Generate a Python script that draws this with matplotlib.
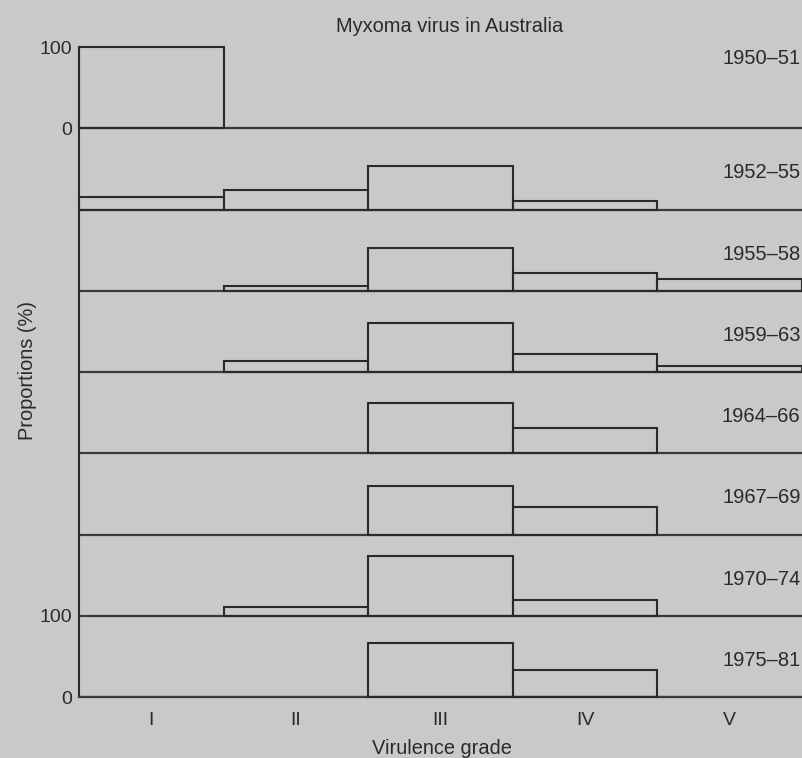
import matplotlib.pyplot as plt
import numpy as np

# Virulence grades and period labels (top panel first)
grades = ['I', 'II', 'III', 'IV', 'V']
periods = ['1950-51', '1952-55', '1955-58', '1959-63',
           '1964-66', '1967-69', '1970-74', '1975-81']

# Proportions (%) per grade
p_1950_51 = [100, 0, 0, 0, 0]
p_1952_55 = [15.5, 24.5, 54, 11, 0]
p_1955_58 = [0, 6, 53, 22, 14]
p_1959_63 = [0, 13, 60, 22, 7]
p_1964_66 = [0, 0, 62, 31, 0]
p_1967_69 = [0, 0, 60, 34, 0]
p_1970_74 = [0, 11, 74, 19, 0]
p_1975_81 = [0, 0, 66, 33, 0]

props = [p_1950_51, p_1952_55, p_1955_58, p_1959_63,
         p_1964_66, p_1967_69, p_1970_74, p_1975_81]

BG = '#c9c9c9'
INK = '#2a2a2a'
FONT = 'Liberation Sans'


def plot_panel(ax, offset, values, label, label_frac):
    x = np.arange(len(values))
    for xi, v in zip(x, values):
        if v <= 0:
            continue
        ax.bar(xi, v, width=1, bottom=offset, align='edge', fill=False,
               edgecolor=INK, linewidth=1.5, zorder=3, clip_on=False)
    # baseline across the full width
    ax.axhline(offset, color='#3a3a3a', linewidth=1.6, zorder=2)
    ax.text(4.99, offset + 100 * label_frac, label.replace('-', '\u2013'),
            ha='right', va='center', fontsize=14.5, color=INK, family=FONT)


fig = plt.figure(figsize=(8.03, 7.58), dpi=100, facecolor=BG)
ax = fig.add_axes([79 / 803, 1 - 697 / 758, (802 - 79) / 803, (697 - 47) / 758])
ax.set_facecolor(BG)

n = len(periods)
for i, (label, values) in enumerate(zip(periods, props)):
    offset = (n - 1 - i) * 100
    frac = 0.86 if i == 0 else 0.45
    plot_panel(ax, offset, values, label, frac)

ax.set_xlim(0, 5)
ax.set_ylim(0, 800)

# Axis styling
for side in ['top', 'right']:
    ax.spines[side].set_visible(False)
ax.spines['left'].set_color(INK)
ax.spines['left'].set_linewidth(1.5)
ax.spines['bottom'].set_color('#3a3a3a')
ax.spines['bottom'].set_linewidth(1.6)

ax.set_yticks([0, 100, 700, 800])
ax.set_yticklabels(['0', '100', '0', '100'])
ax.set_xticks(np.arange(len(grades)) + 0.5)
ax.set_xticklabels(grades)
ax.tick_params(axis='y', length=0, pad=5, labelsize=14, labelcolor=INK)
ax.tick_params(axis='x', length=0, pad=11, labelsize=14, labelcolor=INK)
for lbl in ax.get_xticklabels() + ax.get_yticklabels():
    lbl.set_family(FONT)

# Titles and labels
fig.text(450 / 803, 1 - 27 / 758, 'Myxoma virus in Australia', ha='center',
         va='center', fontsize=14.4, color=INK, family=FONT)
fig.text(28 / 803, 1 - 370 / 758, 'Proportions (%)', rotation=90, ha='center',
         va='center', fontsize=14.4, color=INK, family=FONT)
fig.text(442 / 803, 1 - 749 / 758, 'Virulence grade', ha='center',
         va='center', fontsize=14.4, color=INK, family=FONT)

fig.savefig('out.png', dpi=100, facecolor=BG)
